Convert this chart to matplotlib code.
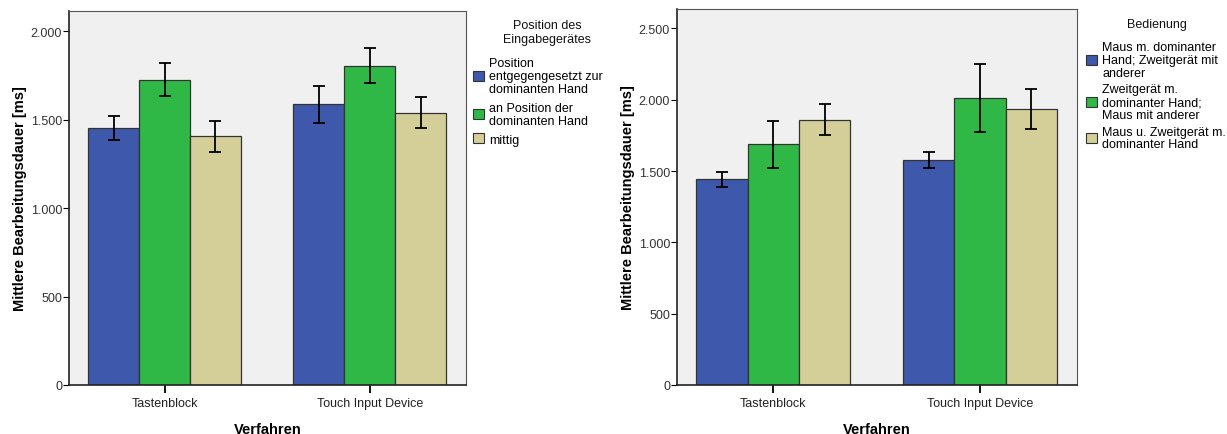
import matplotlib
matplotlib.use("Agg")
import matplotlib.pyplot as plt
import matplotlib.patches as mpatches
from matplotlib.ticker import FuncFormatter, MultipleLocator
import numpy as np

plt.rcParams["font.family"] = ["Liberation Sans", "DejaVu Sans"]

# ==================== Daten ====================
GROUPS = ["Tastenblock", "Touch Input Device"]

# Linkes Diagramm: Position des Eingabegerätes
LEFT_TITLE = "Position des\nEingabegerätes"
LEFT_LABELS = [
    "Position\nentgegengesetzt zur\ndominanten Hand",
    "an Position der\ndominanten Hand",
    "mittig",
]
LEFT_MEAN = [[1452, 1586], [1725, 1804], [1407, 1539]]
LEFT_LOW = [[1384, 1482], [1631, 1704], [1316, 1454]]
LEFT_HIGH = [[1521, 1688], [1817, 1906], [1492, 1627]]

# Rechtes Diagramm: Bedienung
RIGHT_TITLE = "Bedienung"
RIGHT_LABELS = [
    "Maus m. dominanter\nHand; Zweitgerät mit\nanderer",
    "Zweitgerät m.\ndominanter Hand;\nMaus mit anderer",
    "Maus u. Zweitgerät m.\ndominanter Hand",
]
RIGHT_MEAN = [[1445, 1578], [1688, 2013], [1860, 1938]]
RIGHT_LOW = [[1391, 1522], [1520, 1776], [1751, 1797]]
RIGHT_HIGH = [[1496, 1634], [1851, 2249], [1971, 2076]]

COLORS = ["#3E58AC", "#2FB846", "#D4CF98"]
BG = "#F0F0F0"
W, H = 1227, 435


def fmt_de(v, pos):
    return f"{int(round(v)):,}".replace(",", ".")


def draw_panel(fig, rect, means, lows, highs, ymax, labels, title,
               title_xy, leg_xy, spacing):
    ax = fig.add_axes(rect)
    ax.set_facecolor(BG)
    x = np.arange(len(GROUPS))
    width = 0.248
    for i in range(3):
        pos = x + (i - 1) * width
        m = np.array(means[i])
        lo = m - np.array(lows[i])
        hi = np.array(highs[i]) - m
        ax.bar(pos, m, width=width, color=COLORS[i], edgecolor="#333333",
               linewidth=0.9, zorder=2)
        ax.errorbar(pos, m, yerr=[lo, hi], fmt="none", ecolor="black",
                    elinewidth=1.3, capsize=4.0, capthick=1.3, zorder=3)
    ax.set_xlim(-0.465, 1.468)
    ax.set_ylim(0, ymax)
    ax.yaxis.set_major_locator(MultipleLocator(500))
    ax.yaxis.set_major_formatter(FuncFormatter(fmt_de))
    ax.set_xticks(x)
    ax.set_xticklabels(GROUPS, fontsize=9, color="#222222")
    ax.tick_params(axis="y", labelsize=9, length=4, width=0.8, pad=1,
                   labelcolor="#333333")
    ax.tick_params(axis="x", length=6, width=1.3, pad=3)
    for s in ("left", "bottom"):
        ax.spines[s].set_color("#222222")
        ax.spines[s].set_linewidth(1.2)
    for s in ("top", "right"):
        ax.spines[s].set_color("#555555")
        ax.spines[s].set_linewidth(0.8)
    ax.set_xlabel("Verfahren", fontsize=10.5, fontweight="bold", labelpad=9)
    ax.set_ylabel("Mittlere Bearbeitungsdauer [ms]", fontsize=10.5,
                  fontweight="bold", labelpad=3)

    # Legendentitel separat, damit der Abstand zu den Einträgen stimmt
    fig.text(title_xy[0] / W, 1 - title_xy[1] / H, title, fontsize=9,
             ha="center", va="center", multialignment="center",
             linespacing=1.15, color="#111111")
    handles = [mpatches.Patch(facecolor=c, edgecolor="#333333", linewidth=0.8)
               for c in COLORS]
    leg = fig.legend(handles, labels, loc="upper left",
                     bbox_to_anchor=(leg_xy[0] / W, 1 - leg_xy[1] / H),
                     frameon=False, fontsize=9,
                     handlelength=0.85, handleheight=0.85, handletextpad=0.45,
                     labelspacing=spacing, borderaxespad=0, borderpad=0)
    for t in leg.get_texts():
        t.set_linespacing(1.1)
    return ax


fig = plt.figure(figsize=(W / 100, H / 100), dpi=100)
fig.patch.set_facecolor("white")

draw_panel(fig, [69 / W, 49 / H, 397 / W, 374 / H],
           LEFT_MEAN, LEFT_LOW, LEFT_HIGH, 2113,
           LEFT_LABELS, LEFT_TITLE, (547, 33), (473, 58), 0.55)
draw_panel(fig, [677 / W, 49 / H, 400 / W, 376 / H],
           RIGHT_MEAN, RIGHT_LOW, RIGHT_HIGH, 2636,
           RIGHT_LABELS, RIGHT_TITLE, (1157, 25), (1086, 42), 0.36)

fig.savefig("out.png", dpi=100, facecolor="white")
